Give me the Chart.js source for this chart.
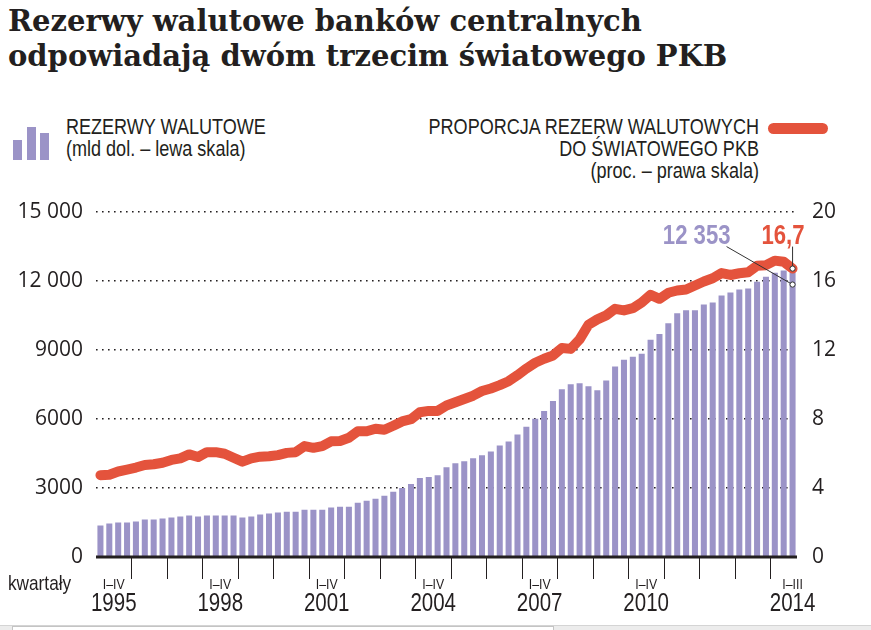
<!DOCTYPE html>
<html lang="pl">
<head>
<meta charset="utf-8">
<script src="https://cdn.jsdelivr.net/npm/chart.js@4.4.1/dist/chart.umd.min.js"></script>
<style>
  body { margin: 0; width: 871px; height: 630px; background: #fff; position: relative; overflow: hidden;
         font-family: "Liberation Sans", Arial, sans-serif; color: #231f20; }
  h1 { position: absolute; left: 8px; top: 4px; margin: 0; font: bold 29px/35px "DejaVu Serif", serif; color: #231f20; }
  .leg { position: absolute; font-size: 22px; line-height: 22px; white-space: nowrap; transform: scaleX(0.82); }
  #legL { left: 66px; top: 116px; transform-origin: left top; }
  #legR { right: 112px; top: 116px; text-align: right; transform-origin: right top; }
  .ico { position: absolute; background: #9b93c7; width: 9px; }
  .pill { position: absolute; left: 768px; top: 123px; width: 60px; height: 11px; border-radius: 6px; background: #e4533c; }
  #chartBox { position: absolute; left: 0; top: 184px; width: 871px; height: 446px; }
  .strip { position: absolute; left: 0; top: 625px; width: 871px; height: 5px; background: #ececec; border-top: 1px solid #d4d4d4; }
  .strip div { position: absolute; left: 12px; top: 0; width: 540px; height: 5px; background: #fff; border: 1px solid #c4c4c4; border-bottom: 0; }
</style>
</head>
<body>
<h1>Rezerwy walutowe banków centralnych<br>odpowiadają dwóm trzecim światowego PKB</h1>

<div class="ico" style="left:13px;top:140px;height:20px"></div>
<div class="ico" style="left:27px;top:127px;height:33px"></div>
<div class="ico" style="left:40px;top:133px;height:27px"></div>
<div class="leg" id="legL">REZERWY WALUTOWE<br>(mld dol. – lewa skala)</div>
<div class="leg" id="legR">PROPORCJA REZERW WALUTOWYCH<br>DO ŚWIATOWEGO PKB<br>(proc. – prawa skala)</div>
<div class="pill"></div>

<div id="chartBox"><canvas id="mainChart"></canvas></div>
<div class="strip"><div></div></div>

<script>
// kwartały 1995 I – 2014 III
const years = [1995, 1996, 1997, 1998, 1999, 2000, 2001, 2002, 2003, 2004,
               2005, 2006, 2007, 2008, 2009, 2010, 2011, 2012, 2013, 2014];
const quarterNames = ["I", "II", "III", "IV"];

// rezerwy walutowe, mld dol. (lewa skala)
const reserves = [
    1370, 1455, 1500, 1500, 1545, 1630, 1630, 1670, 1715, 1755,
    1800, 1760, 1800, 1800, 1800, 1800, 1715, 1755, 1845, 1885,
    1930, 1970, 1970, 2055, 2055, 2055, 2145, 2185, 2185, 2355,
    2445, 2530, 2655, 2830, 3000, 3170, 3430, 3470, 3555, 3900,
    4070, 4155, 4285, 4415, 4585, 4845, 5015, 5315, 5655, 6000,
    6345, 6770, 7285, 7500, 7545, 7415, 7245, 7670, 8270, 8570,
    8700, 8830, 9430, 9685, 10155, 10585, 10715, 10715, 10970, 11055,
    11355, 11485, 11615, 11655, 11955, 12170, 12345, 12445, 12353
];

// proporcja rezerw do światowego PKB, proc. (prawa skala)
const gdpShare = [
    4.74, 4.76, 4.95, 5.06, 5.18, 5.33, 5.37, 5.46, 5.62, 5.71,
    5.94, 5.79, 6.07, 6.07, 5.98, 5.75, 5.52, 5.71, 5.81, 5.83,
    5.90, 6.03, 6.07, 6.42, 6.32, 6.42, 6.70, 6.72, 6.90, 7.28,
    7.28, 7.43, 7.37, 7.60, 7.85, 7.98, 8.38, 8.46, 8.46, 8.77,
    8.96, 9.15, 9.34, 9.61, 9.76, 9.95, 10.18, 10.53, 10.91, 11.25,
    11.48, 11.67, 12.10, 12.05, 12.60, 13.45, 13.76, 13.99, 14.37, 14.28,
    14.41, 14.73, 15.18, 14.95, 15.30, 15.43, 15.49, 15.72, 15.95, 16.14,
    16.44, 16.33, 16.43, 16.49, 16.87, 16.90, 17.16, 17.10, 16.70
];

// opisy osi x
const labelYears = ["1995", "1998", "2001", "2004", "2007", "2010", "2014"];
const labelRanges = ["I–IV", "I–IV", "I–IV", "I–IV", "I–IV", "I–IV", "I–III"];

const quarters = [];
years.forEach(y => quarterNames.forEach(q => quarters.push(q + " " + y)));
quarters.length = reserves.length;

const ink = "#231f20";
const barColor = "#9b93c7";
const red = "#e4533c";
const sans = '"Liberation Sans", Arial, sans-serif';

function spaced(v) {
    return v >= 10000 ? String(v).replace(/\B(?=(\d{3})+(?!\d))/g, " ") : String(v);
}

// tekst zwężony jak krój "narrow"
function narrowText(ctx, text, x, y, font, align) {
    ctx.save();
    ctx.font = font;
    ctx.textAlign = align;
    ctx.translate(x, y);
    ctx.scale(0.82, 1);
    ctx.fillText(text, 0, 0);
    ctx.restore();
}

const decor = {
    id: "decor",
    afterDatasetsDraw(chart) {
        let {ctx, chartArea, scales} = chart;
        let x = scales.x, yl = scales.y, yr = scales.y1;
        let bottom = chartArea.bottom;
        ctx.save();

        // linia bazowa
        ctx.fillStyle = ink;
        ctx.fillRect(chartArea.left, bottom - 1.5, chartArea.right - chartArea.left, 3);

        // kreski między latami
        ctx.strokeStyle = ink;
        ctx.lineWidth = 1;
        for (let i = 4; i < reserves.length; i += 4) {
            let px = Math.round((x.getPixelForValue(i - 1) + x.getPixelForValue(i)) / 2) + 0.5;
            ctx.beginPath();
            ctx.moveTo(px, bottom);
            ctx.lineTo(px, bottom + 22);
            ctx.stroke();
        }

        // opisy lat
        ctx.textBaseline = "alphabetic";
        labelYears.forEach((yr0, i) => {
            let first = (Number(yr0) - years[0]) * 4;
            let last = Math.min(first + 3, reserves.length - 1);
            let cx = last - first < 3 ? x.getPixelForValue(last)
                                      : (x.getPixelForValue(first) + x.getPixelForValue(last)) / 2;
            narrowText(ctx, labelRanges[i], cx, bottom + 32, "15px " + sans, "center");
            narrowText(ctx, yr0, cx, bottom + 54, "25px " + sans, "center");
        });
        narrowText(ctx, "kwartały", 8, bottom + 33, "21px " + sans, "left");

        // wartości ostatniego kwartału
        let n = reserves.length - 1;
        let xl = x.getPixelForValue(n);
        let yP = yr.getPixelForValue(gdpShare[n]);
        let yB = yl.getPixelForValue(reserves[n]) + 12;

        ctx.strokeStyle = "#333";
        ctx.beginPath();
        ctx.moveTo(xl, yP - 22);
        ctx.lineTo(xl, yP);
        ctx.moveTo(xl - 66, yP - 22);
        ctx.lineTo(xl, yB);
        ctx.stroke();

        [[xl, yP], [xl, yB]].forEach(([px, py]) => {
            ctx.beginPath();
            ctx.arc(px, py, 2.6, 0, Math.PI * 2);
            ctx.fillStyle = "#fff";
            ctx.fill();
            ctx.stroke();
        });

        ctx.fillStyle = red;
        narrowText(ctx, gdpShare[n].toFixed(1).replace(".", ","), xl + 12, yP - 25, "bold 27px " + sans, "right");
        ctx.fillStyle = barColor;
        narrowText(ctx, spaced(reserves[n]), xl - 62, yP - 25, "bold 27px " + sans, "right");

        ctx.restore();
    }
};

let ctx = document.getElementById("mainChart").getContext("2d");

window.chart = new Chart(ctx, {
    type: "bar",
    data: {
        labels: quarters,
        datasets: [{
            type: "line",
            label: "proporcja do PKB",
            data: gdpShare,
            yAxisID: "y1",
            borderColor: red,
            borderWidth: 10,
            borderCapStyle: "round",
            borderJoinStyle: "round",
            pointRadius: 0,
            tension: 0,
            order: 0
        }, {
            label: "rezerwy walutowe",
            data: reserves,
            yAxisID: "y",
            backgroundColor: barColor,
            categoryPercentage: 1,
            barPercentage: 0.68,
            order: 1
        }]
    },
    options: {
        responsive: true,
        maintainAspectRatio: false,
        animation: false,
        layout: { padding: { top: 14, bottom: 73, left: 0, right: 0 } },
        plugins: { legend: { display: false }, tooltip: { enabled: false } },
        scales: {
            x: {
                offset: true,
                grid: { display: false },
                border: { display: false },
                ticks: { display: false },
                afterFit: s => { s.height = 0; }
            },
            y: {
                position: "left",
                min: 0,
                max: 15000,
                ticks: {
                    stepSize: 3000,
                    padding: 13,
                    color: ink,
                    font: { family: "Open Sans", size: 21 },
                    callback: v => spaced(v)
                },
                grid: {
                    drawTicks: false,
                    lineWidth: 1.6,
                    color: c => c.tick && c.tick.value === 0 ? "rgba(0,0,0,0)" : ink
                },
                border: { display: false, dash: [1.6, 4.4] },
                afterFit: s => { s.width = 96; }
            },
            y1: {
                position: "right",
                min: 0,
                max: 20,
                ticks: {
                    stepSize: 4,
                    padding: 15,
                    color: ink,
                    font: { family: "Open Sans", size: 21 }
                },
                grid: { display: false, drawTicks: false },
                border: { display: false },
                afterFit: s => { s.width = 74; }
            }
        }
    },
    plugins: [decor]
});
</script>
</body>
</html>
